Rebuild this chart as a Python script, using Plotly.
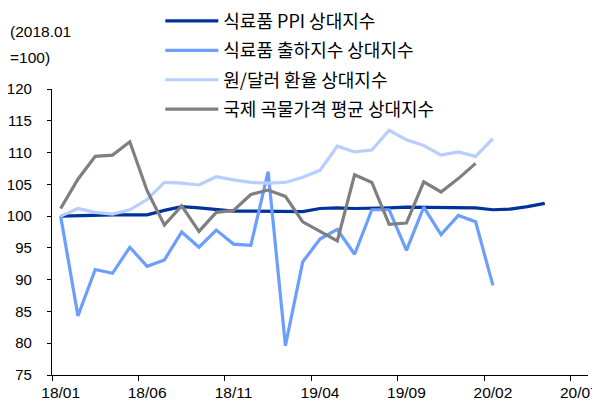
import plotly.graph_objects as go

months = ["18/01","18/02","18/03","18/04","18/05","18/06","18/07","18/08","18/09","18/10","18/11","18/12",
          "19/01","19/02","19/03","19/04","19/05","19/06","19/07","19/08","19/09","19/10","19/11","19/12",
          "20/01","20/02","20/03","20/04","20/05","20/06","20/07"]

ppi = [100.0, 100.1, 100.2, 100.2, 100.2, 100.2, 100.9, 101.5, 101.3, 101.0, 100.8, 100.8, 100.8, 100.8,
       100.7, 101.2, 101.3, 101.2, 101.2, 101.3, 101.4, 101.4, 101.3, 101.3, 101.3, 101.0, 101.1, 101.5, 102.0]
shipment = [100.0, 84.3, 91.6, 91.0, 95.1, 92.1, 93.1, 97.5, 95.1, 97.8, 95.6, 95.4, 107.0, 79.6, 92.8,
            96.4, 97.9, 94.0, 101.0, 101.0, 94.6, 101.4, 97.1, 100.1, 99.1, 89.1]
exchange = [100.0, 101.2, 100.6, 100.3, 101.0, 102.6, 105.3, 105.2, 104.9, 106.2, 105.7, 105.3, 105.2,
            105.3, 106.1, 107.2, 111.0, 110.1, 110.4, 113.5, 112.0, 111.1, 109.6, 110.1, 109.4, 112.2]
grain = [101.2, 105.8, 109.4, 109.6, 111.7, 104.0, 98.6, 101.6, 97.6, 100.6, 100.9, 103.4, 104.1, 103.1,
         99.1, 97.6, 96.1, 106.5, 105.3, 98.7, 98.9, 105.4, 103.8, 105.9, 108.3]

series_names = ["식료품 PPI 상대지수", "식료품 출하지수 상대지수", "원/달러 환율 상대지수", "국제 곡물가격 평균 상대지수"]
series_values = [ppi, shipment, exchange, grain]
colors = ["#003399", "#6C9EFF", "#B7CEFF", "#7F7F7F"]

y_ticks = [75, 80, 85, 90, 95, 100, 105, 110, 115, 120]
x_label_idx = list(range(0, 31, 5))

FONT = "Liberation Sans, Arial, sans-serif"
KFONT = "Noto Sans CJK KR, Liberation Sans, sans-serif"

# page has an 8px body margin: screen = figure + 8
OFF = 8
W, H = 600, 409
L = 51.7 - OFF
T = 89.2 - OFF
R = W - (587.7 - OFF)
B = H - (375 - OFF)
PW, PH = W - L - R, H - T - B

fig = go.Figure()
for name, vals, c in zip(series_names, series_values, colors):
    fig.add_trace(go.Scatter(
        x=list(range(len(vals))), y=vals, mode="lines", name=name,
        line=dict(color=c, width=3.2), legendgroup=name,
    ))

fig.update_layout(
    width=W, height=H,
    margin=dict(l=L, r=R, t=T, b=B, autoexpand=False),
    paper_bgcolor="white", plot_bgcolor="white",
    font=dict(family=FONT, size=15.5, color="black"),
    showlegend=True,
    legend=dict(
        xref="paper", yref="paper",
        x=(160 - OFF - L) / PW, y=1 + (T + 5) / PH, xanchor="left", yanchor="top",
        font=dict(family=KFONT, size=18, color="black"),
        bgcolor="rgba(0,0,0,0)", tracegroupgap=3, itemwidth=53,
    ),
    xaxis=dict(
        range=[-0.5, 30.5], showgrid=False, zeroline=False, automargin=False,
        showline=True, linecolor="black", linewidth=1.3,
        tickmode="array", tickvals=x_label_idx, ticktext=[months[i] for i in x_label_idx],
        ticks="", ticklabelstandoff=3, ticklabeloverflow="allow",
        tickfont=dict(family=FONT, size=15.5, color="black"),
        minor=dict(tickmode="array", tickvals=[i - 0.5 for i in x_label_idx], ticks="outside",
                   ticklen=5, tickcolor="black", tickwidth=1, showgrid=False),
    ),
    yaxis=dict(
        range=[75, 120], showgrid=False, zeroline=False, automargin=False,
        showline=True, linecolor="black", linewidth=1.3,
        tickmode="array", tickvals=y_ticks, ticks="outside", ticklen=4, tickcolor="black",
        ticklabelstandoff=12, ticklabeloverflow="allow",
        tickfont=dict(family=FONT, size=15, color="black"),
    ),
)

for txt, yc in [("(2018.01", 32), ("=100)", 58)]:
    fig.add_annotation(text=txt, xref="paper", yref="paper", x=(8 - OFF - L) / PW,
                       y=1 + (T - (yc - OFF)) / PH, xanchor="left", yanchor="middle",
                       showarrow=False, font=dict(family=FONT, size=15.5, color="black"))

fig.write_html("out.html")
